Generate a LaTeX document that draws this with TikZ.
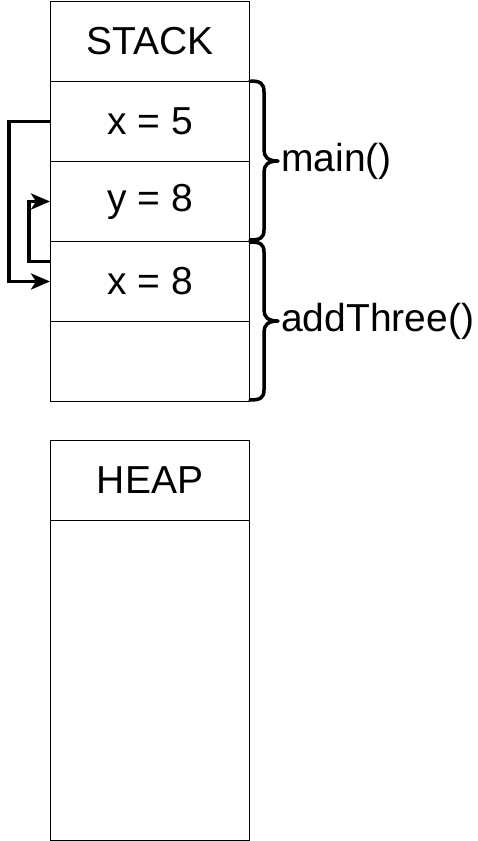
\documentclass[tikz,border=0pt]{standalone}
\usepackage{fontspec}
\setmainfont{Liberation Sans}
\usetikzlibrary{arrows.meta}
\begin{document}
\begin{tikzpicture}[x=1pt,y=-1pt,
  cell/.style={draw=black,line width=1pt,minimum width=199pt,minimum height=80pt,inner sep=0pt,anchor=north west,font=\fontsize{39}{44}\selectfont},
  ptr/.style={line width=3.5pt,-{Stealth[length=19pt,width=16pt,inset=5pt]}},
  brace/.style={line width=3.5pt,line cap=round,line join=round},
  lbl/.style={anchor=west,inner sep=0pt,font=\fontsize{39}{44}\selectfont}]
\useasboundingbox (0,0) rectangle (478,841);
\node[cell] (stack) at (50,1) {STACK};
\node[cell] (x5) at (50,81) {x = 5};
\node[cell] (y8) at (50,161) {y = 8};
\node[cell] (x8) at (50,241) {x = 8};
\node[cell] (empty) at (50,321) {};
\node[cell] (heap) at (50,440) {HEAP};
\node[cell,minimum height=320pt] (heapbody) at (50,520) {};
% pointers
\draw[ptr] (x5.west) -- ++(-41,0) |- (x8.west);
\draw[ptr] ([yshift=20pt]x8.west) -- ++(-21,0) |- (y8.west);
% braces
\coordinate (b1) at (278,161);
\coordinate (b2) at (278,321);
\draw[brace] (250,81) .. controls (260,81) and (264,83) .. (264,92) -- (264,150)
  .. controls (264,157) and (268,161) .. (b1)
  .. controls (268,161) and (264,165) .. (264,172) -- (264,230)
  .. controls (264,238) and (260,240) .. (250,240);
\draw[brace] (250,242) .. controls (260,242) and (264,244) .. (264,252) -- (264,310)
  .. controls (264,317) and (268,321) .. (b2)
  .. controls (268,321) and (264,325) .. (264,332) -- (264,390)
  .. controls (264,398) and (260,400) .. (250,400);
\node[lbl] (mainl) at ([xshift=3pt]b1) {main()};
\node[lbl] (addl) at ([xshift=3pt]b2) {addThree()};
\end{tikzpicture}
\end{document}
